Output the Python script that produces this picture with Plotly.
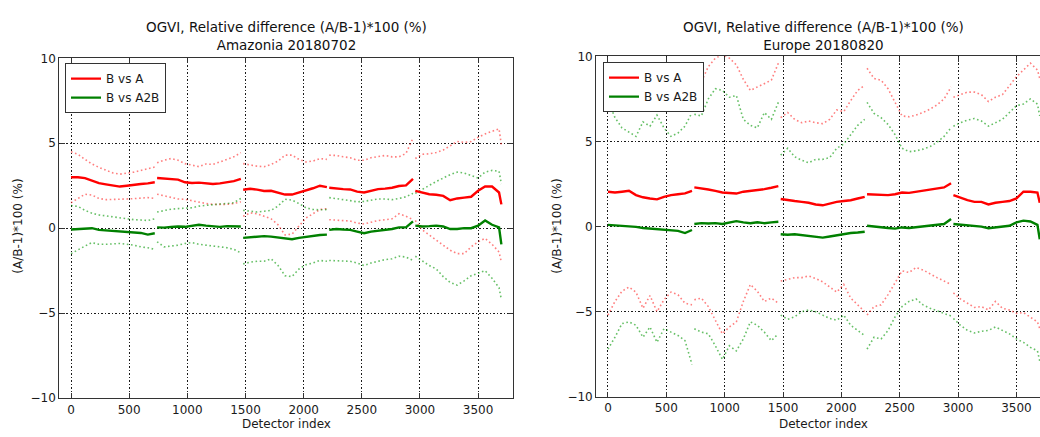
import plotly.graph_objects as go

# Detector-index sample positions, one list per camera (gaps between cameras)
CAMERA_X = [
    [0, 60, 120, 180, 240, 300, 360, 420, 480, 540, 600, 660, 720],
    [740, 800, 860, 920, 980, 1040, 1100, 1160, 1220, 1280, 1340, 1400, 1460],
    [1480, 1540, 1600, 1660, 1720, 1780, 1840, 1900, 1960, 2020, 2080, 2140, 2200],
    [2220, 2280, 2340, 2400, 2460, 2520, 2580, 2640, 2700, 2760, 2820, 2880, 2940],
    [2960, 3020, 3080, 3140, 3200, 3260, 3320, 3380, 3440, 3500, 3560, 3620, 3680, 3700],
]

# ---------------- Amazonia 20180702 ----------------
AM_A_MEAN = [
    [3.0, 3.0, 2.95, 2.78, 2.65, 2.58, 2.53, 2.45, 2.5, 2.57, 2.6, 2.64, 2.7],
    [2.95, 2.93, 2.89, 2.86, 2.7, 2.66, 2.68, 2.63, 2.6, 2.64, 2.7, 2.77, 2.9],
    [2.26, 2.32, 2.27, 2.19, 2.2, 2.1, 1.98, 1.98, 2.1, 2.19, 2.35, 2.5, 2.42],
    [2.38, 2.33, 2.3, 2.28, 2.15, 2.1, 2.2, 2.3, 2.33, 2.38, 2.48, 2.52, 2.9],
    [2.2, 2.1, 2.0, 1.97, 1.9, 1.65, 1.75, 1.8, 1.85, 2.2, 2.45, 2.45, 2.1, 1.4],
]
AM_A_HI = [
    [4.5, 4.35, 4.05, 3.78, 3.58, 3.4, 3.25, 3.18, 3.22, 3.3, 3.4, 3.5, 3.6],
    [3.85, 4.0, 4.1, 4.0, 3.8, 3.72, 3.62, 3.78, 3.75, 3.9, 4.05, 4.2, 4.45],
    [3.8, 3.72, 3.65, 3.62, 3.75, 3.95, 4.3, 4.3, 4.05, 3.9, 3.95, 4.1, 4.05],
    [4.3, 4.28, 4.2, 4.15, 4.0, 4.0, 4.15, 4.2, 4.28, 4.2, 4.2, 4.4, 5.3],
    [4.1, 4.35, 4.38, 4.45, 4.6, 4.85, 5.1, 5.05, 5.1, 5.35, 5.55, 5.7, 5.85, 4.9],
]
AM_A_LO = [
    [1.5, 1.75, 2.0, 1.95, 1.75, 1.68, 1.68, 1.7, 1.72, 1.74, 1.76, 1.8, 1.75],
    [2.0, 1.9, 1.78, 1.72, 1.7, 1.62, 1.5, 1.45, 1.4, 1.38, 1.4, 1.45, 1.55],
    [0.7, 0.9, 0.85, 0.7, 0.55, 0.2, -0.4, -0.35, 0.15, 0.6, 0.85, 1.1, 1.15],
    [0.5, 0.48, 0.45, 0.42, 0.3, 0.25, 0.35, 0.45, 0.5, 0.55, 0.85, 0.7, 0.5],
    [0.45, -0.1, -0.4, -0.7, -1.0, -1.3, -1.5, -1.5, -1.1, -0.8, -0.6, -0.95, -1.4, -2.0],
]
AM_B_MEAN = [
    [-0.08, -0.05, -0.02, 0.0, -0.1, -0.13, -0.15, -0.19, -0.2, -0.25, -0.28, -0.38, -0.3],
    [0.05, 0.03, 0.07, 0.1, 0.08, 0.12, 0.2, 0.15, 0.1, 0.08, 0.12, 0.1, 0.1],
    [-0.57, -0.55, -0.5, -0.47, -0.5, -0.55, -0.58, -0.65, -0.57, -0.5, -0.45, -0.4, -0.38],
    [-0.1, -0.05, -0.08, -0.1, -0.2, -0.3, -0.2, -0.15, -0.1, -0.05, 0.05, 0.05, 0.4],
    [0.15, 0.1, 0.12, 0.15, 0.1, -0.05, -0.05, 0.0, 0.0, 0.15, 0.45, 0.2, 0.05, -0.95],
]
AM_B_HI = [
    [1.33, 1.28, 1.05, 0.88, 0.78, 0.72, 0.65, 0.58, 0.53, 0.5, 0.48, 0.45, 0.55],
    [0.95, 1.05, 1.12, 1.15, 1.18, 1.2, 1.3, 1.35, 1.38, 1.42, 1.45, 1.5, 1.75],
    [1.05, 0.98, 0.95, 1.0, 1.05, 1.3, 1.7, 1.65, 1.45, 1.2, 1.1, 1.08, 1.1],
    [1.8, 1.72, 1.68, 1.62, 1.55, 1.58, 1.65, 1.72, 1.72, 1.68, 1.75, 1.85, 2.05],
    [2.05, 2.3, 2.55, 2.75, 2.95, 3.15, 3.3, 3.25, 3.1, 2.95, 3.3, 3.4, 3.35, 2.6],
]
AM_B_LO = [
    [-1.5, -1.25, -1.05, -0.85, -0.95, -0.95, -0.92, -0.9, -0.95, -1.0, -1.1, -1.15, -1.25],
    [-0.8, -1.1, -1.05, -1.0, -0.9, -0.85, -0.95, -1.0, -1.05, -1.1, -1.15, -1.25, -1.45],
    [-2.1, -2.0, -1.95, -1.95, -1.8, -2.2, -2.8, -2.85, -2.4, -2.15, -2.05, -1.9, -1.95],
    [-1.9, -1.92, -1.9, -1.95, -2.05, -2.2, -2.05, -1.95, -1.85, -1.8, -1.65, -1.7, -1.9],
    [-1.65, -1.95, -2.2, -2.4, -2.85, -3.2, -3.35, -3.1, -2.8, -2.65, -2.5, -2.95, -3.5, -4.2],
]

# ---------------- Europe 20180820 ----------------
EU_A_MEAN = [
    [2.05, 2.0, 2.05, 2.1, 1.85, 1.72, 1.65, 1.6, 1.75, 1.85, 1.9, 1.95, 2.1],
    [2.3, 2.25, 2.18, 2.1, 2.0, 1.97, 1.94, 2.05, 2.1, 2.12, 2.2, 2.28, 2.38],
    [1.62, 1.58, 1.5, 1.45, 1.4, 1.3, 1.25, 1.35, 1.45, 1.5, 1.55, 1.65, 1.75],
    [1.9, 1.88, 1.9, 1.85, 1.9, 2.0, 1.98, 2.05, 2.1, 2.15, 2.25, 2.3, 2.55],
    [1.85, 1.7, 1.55, 1.45, 1.45, 1.3, 1.4, 1.45, 1.5, 1.65, 2.05, 2.05, 2.0, 1.4],
]
EU_A_HI = [
    [9.3, 8.4, 7.9, 7.6, 7.4, 8.1, 7.7, 8.3, 7.8, 7.45, 7.7, 8.2, 9.6],
    [8.3, 8.5, 9.4, 9.9, 10.1, 9.9, 9.5, 8.65, 8.0, 8.2, 8.4, 8.6, 9.6],
    [6.4, 6.7, 6.3, 6.1, 6.2, 6.1, 6.05, 6.3, 6.85, 6.75, 7.4, 8.0, 8.3],
    [9.3, 8.7, 8.6, 8.1, 7.3, 6.5, 6.45, 6.55, 6.7, 6.9, 7.15, 7.5, 8.2],
    [7.6, 7.75, 7.9, 7.9, 7.75, 7.35, 7.6, 7.75, 8.3, 8.8, 9.2, 9.6, 9.2, 8.7],
]
EU_A_LO = [
    [-5.2, -4.4, -3.8, -3.55, -3.85, -4.8, -4.05, -5.0, -4.3, -3.85, -4.0, -4.5, -4.6],
    [-4.3, -4.2, -4.7, -5.5, -6.3, -5.9, -5.6, -4.4, -3.4, -3.8, -4.4, -4.2, -4.5],
    [-3.2, -3.1, -3.0, -3.0, -2.9, -3.05, -3.25, -3.55, -3.85, -3.4, -4.2, -4.6, -5.0],
    [-5.2, -4.7, -4.6, -4.0, -3.3, -2.6, -2.7, -2.4, -2.55, -2.8, -3.0, -3.2, -3.4],
    [-3.9, -4.25, -4.5, -4.75, -4.7, -4.9, -4.4, -4.8, -4.9, -5.1, -5.05, -5.3, -5.6, -6.0],
]
EU_B_MEAN = [
    [0.1, 0.08, 0.03, 0.0, -0.02, -0.08, -0.12, -0.15, -0.2, -0.22, -0.25, -0.38, -0.2],
    [0.15, 0.2, 0.18, 0.2, 0.15, 0.22, 0.32, 0.25, 0.2, 0.25, 0.2, 0.25, 0.28],
    [-0.45, -0.48, -0.45, -0.5, -0.55, -0.6, -0.65, -0.58, -0.5, -0.45, -0.38, -0.35, -0.3],
    [0.05, 0.02, -0.05, -0.08, -0.12, -0.05, -0.08, -0.03, 0.0, 0.05, 0.12, 0.15, 0.45],
    [0.15, 0.12, 0.08, 0.05, 0.0, -0.1, -0.05, 0.0, 0.05, 0.25, 0.35, 0.3, 0.1, -0.75],
]
EU_B_HI = [
    [7.4, 6.4, 5.8, 5.55, 5.3, 6.15, 5.9, 6.55, 5.8, 5.3, 5.5, 5.9, 6.7],
    [6.6, 6.5, 7.5, 8.1, 8.0, 7.6, 7.7, 6.3, 5.95, 5.8, 6.7, 6.3, 7.3],
    [4.2, 4.6, 4.1, 3.9, 3.75, 3.95, 3.95, 4.05, 4.6, 4.85, 5.4, 5.95, 6.3],
    [7.3, 6.65, 6.4, 6.0, 5.4, 4.6, 4.4, 4.45, 4.55, 4.7, 4.95, 5.3, 5.8],
    [5.9, 6.1, 6.25, 6.35, 6.2, 5.9, 6.1, 6.3, 6.7, 7.1, 7.2, 7.5, 7.2, 6.5],
]
EU_B_LO = [
    [-7.2, -6.5, -5.7, -5.6, -5.8, -6.5, -5.9, -6.8, -6.0, -6.2, -6.4, -6.7, -8.1],
    [-6.0, -6.2, -6.3, -7.0, -7.8, -7.0, -7.3, -6.6, -5.6, -5.8, -6.2, -6.7, -6.3],
    [-5.2, -5.45, -5.3, -5.0, -4.9, -5.0, -5.2, -5.4, -5.5, -5.2, -5.8, -6.1, -6.4],
    [-7.2, -6.5, -6.6, -6.1, -5.3, -4.7, -4.4, -4.25, -4.6, -4.8, -4.95, -5.1, -5.25],
    [-5.4, -5.8, -6.1, -6.25, -6.15, -6.1, -5.9, -6.1, -6.3, -6.6, -6.8, -7.1, -7.3, -7.9],
]

PANEL_TITLES = [
    "OGVI, Relative difference (A/B-1)*100 (%)<br>Amazonia 20180702",
    "OGVI, Relative difference (A/B-1)*100 (%)<br>Europe 20180820",
]
X_TICKS = [0, 500, 1000, 1500, 2000, 2500, 3000, 3500]
Y_TICKS = [-10, -5, 0, 5, 10]
Y_TICK_TEXT = ["\u221210", "\u22125", "0", "5", "10"]

W, H = 1040, 437
FONT = "DejaVu Sans"
RED, GREEN = "#ff0000", "#008000"
RED_DOT, GREEN_DOT = "rgba(255,40,40,0.6)", "rgba(0,150,0,0.6)"
FRAME = "#333333"


def join_segments(segments):
    """Flatten per-camera lists, inserting a gap between cameras."""
    out = []
    for i, seg in enumerate(segments):
        if i:
            out.append(None)
        out.extend(seg)
    return out


X_ALL = join_segments(CAMERA_X)

fig = go.Figure()

panels = [
    ("x", "y", "legend", AM_A_MEAN, AM_A_HI, AM_A_LO, AM_B_MEAN, AM_B_HI, AM_B_LO),
    ("x2", "y2", "legend2", EU_A_MEAN, EU_A_HI, EU_A_LO, EU_B_MEAN, EU_B_HI, EU_B_LO),
]

for xa, ya, lg, a_mean, a_hi, a_lo, b_mean, b_hi, b_lo in panels:
    # mean +/- std envelopes (dotted)
    for ys, col in ((a_hi, RED_DOT), (a_lo, RED_DOT), (b_hi, GREEN_DOT), (b_lo, GREEN_DOT)):
        fig.add_trace(go.Scatter(
            x=X_ALL, y=join_segments(ys), xaxis=xa, yaxis=ya, mode="lines",
            line=dict(color=col, width=1.6, dash="1.6px,2.6px"),
            showlegend=False, connectgaps=False, hoverinfo="skip"))
    # mean differences (solid)
    fig.add_trace(go.Scatter(
        x=X_ALL, y=join_segments(a_mean), xaxis=xa, yaxis=ya, mode="lines",
        line=dict(color=RED, width=2.4), name="B vs A", legend=lg, connectgaps=False))
    fig.add_trace(go.Scatter(
        x=X_ALL, y=join_segments(b_mean), xaxis=xa, yaxis=ya, mode="lines",
        line=dict(color=GREEN, width=2.4), name="B vs A2B", legend=lg, connectgaps=False))

# panel geometry in pixels: (left, right, top, bottom, x-range)
geo = [
    (59.4, 513.0, 53.0, 404.0, [-100, 3800]),
    (596.3, 1040.0, 51.0, 402.7, [-100, 3702]),
]

axis_common = dict(
    showgrid=True, gridcolor="#1a1a1a", griddash="1.2px,2.3px", gridwidth=1,
    zeroline=False, showline=True, linecolor=FRAME, linewidth=1.3,
    ticks="inside", ticklen=5, tickwidth=1, tickcolor=FRAME,
    tickfont=dict(family=FONT, size=12, color="#1a1a1a"),
)

layout_axes = {}
for i, (l, r, t, b, xr) in enumerate(geo):
    sx = "" if i == 0 else str(i + 1)
    layout_axes["xaxis" + sx] = dict(
        axis_common, domain=[l / W, r / W], range=xr, tickvals=X_TICKS,
        anchor="y" + sx, mirror="allticks")
    layout_axes["yaxis" + sx] = dict(
        axis_common, domain=[1 - b / H, 1 - t / H], range=[-10, 10],
        tickvals=Y_TICKS, ticktext=Y_TICK_TEXT, anchor="x" + sx,
        mirror="allticks" if i == 0 else False)

annotations = []
centers = [(59.4 + 513.0) / 2, (596.3 + 1051.0) / 2]
ylab_x = [18, 557]
for i, (l, r, t, b, xr) in enumerate(geo):
    annotations.append(dict(
        text=PANEL_TITLES[i], xref="paper", yref="paper",
        x=centers[i] / W, y=1 - 50 / H, xanchor="center", yanchor="bottom",
        showarrow=False, font=dict(family=FONT, size=13.5, color="#111111")))
    annotations.append(dict(
        text="Detector index", xref="paper", yref="paper",
        x=centers[i] / W, y=1 - 431 / H, xanchor="center", yanchor="middle",
        showarrow=False, font=dict(family=FONT, size=12, color="#1a1a1a")))
    annotations.append(dict(
        text="(A/B-1)*100 (%)", xref="paper", yref="paper", textangle=-90,
        x=ylab_x[i] / W, y=1 - 227 / H, xanchor="center", yanchor="middle",
        showarrow=False, font=dict(family=FONT, size=12, color="#1a1a1a")))

legend_style = dict(
    xanchor="left", yanchor="top", bgcolor="white", bordercolor=FRAME,
    borderwidth=1, font=dict(family=FONT, size=12, color="#1a1a1a"),
    itemwidth=30, tracegroupgap=0)

fig.update_layout(
    width=W, height=H, margin=dict(l=0, r=0, t=0, b=0),
    paper_bgcolor="white", plot_bgcolor="white",
    font=dict(family=FONT, size=12, color="#1a1a1a"),
    annotations=annotations,
    legend=dict(legend_style, x=65 / W, y=1 - 58 / H),
    legend2=dict(legend_style, x=603 / W, y=1 - 57 / H),
    **layout_axes,
)

fig.write_html("out.html")
